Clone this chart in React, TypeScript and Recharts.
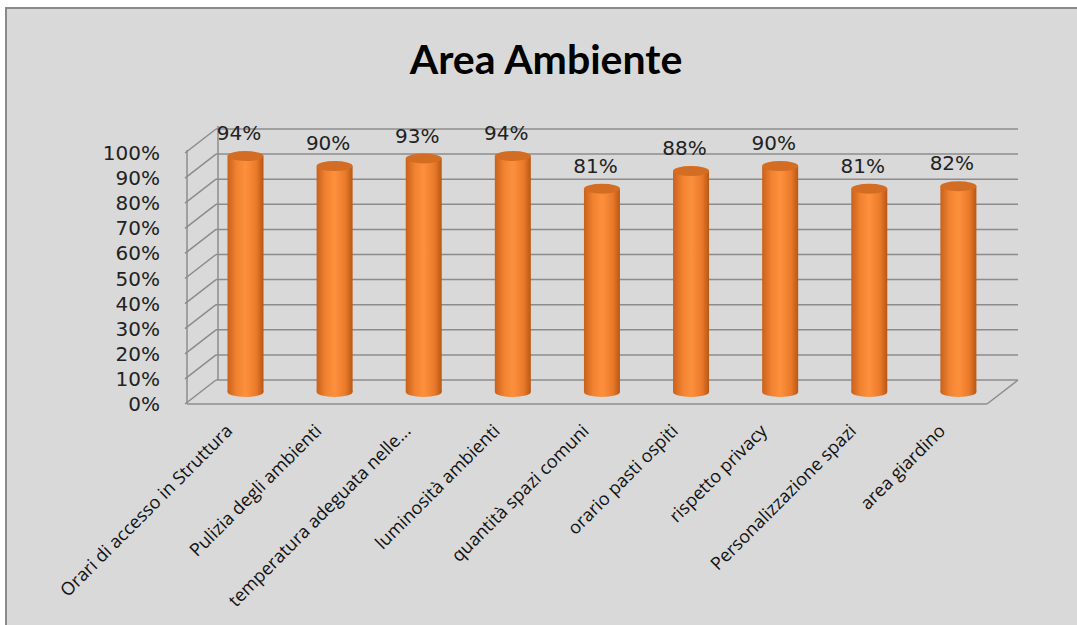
import React from "react";
import { BarChart, Bar, XAxis, YAxis, CartesianGrid, LabelList } from "recharts";

const categories = [
  "Orari di accesso in Struttura",
  "Pulizia degli ambienti",
  "temperatura adeguata nelle...",
  "luminosità ambienti",
  "quantità spazi comuni",
  "orario pasti ospiti",
  "rispetto privacy",
  "Personalizzazione spazi",
  "area giardino",
];
const values = [94, 90, 93, 94, 81, 88, 90, 81, 82];
const yTicks = [0, 10, 20, 30, 40, 50, 60, 70, 80, 90, 100];

const data = categories.map((name, i) => ({ name, value: values[i] }));

// depth of the fake 3D box
const DX = 31;
const DY = -24;

function GridLine(props: any) {
  const { x1, y1, x2, y2 } = props;
  return (
    <g>
      <line x1={x1} y1={y1} x2={x1 + DX} y2={y1 + DY} stroke="#8c8c8c" strokeWidth={1.5} />
      <line x1={x1 + DX} y1={y1 + DY} x2={x2 + DX} y2={y2 + DY} stroke="#8c8c8c" strokeWidth={1.5} />
    </g>
  );
}

function Cylinder(props: any) {
  const { x, y, width, height } = props;
  const cx = x + DX / 2;
  const top = y + DY / 2;
  const bottom = y + height + DY / 2;
  const rx = width / 2;
  const ry = 5;
  return (
    <g>
      <rect x={cx} y={top} width={width} height={bottom - top} fill="url(#cyl)" />
      <ellipse cx={cx + rx} cy={bottom} rx={rx} ry={ry} fill="url(#cyl)" />
      <ellipse cx={cx + rx} cy={top} rx={rx} ry={ry} fill="#d46d24" />
    </g>
  );
}

function ValueLabel(props: any) {
  const { x, y, width, value } = props;
  return (
    <text
      x={x + width / 2 + 9}
      y={y - 28}
      textAnchor="middle"
      fontSize={20}
      fontFamily="DejaVu Sans"
      fill="#222"
    >
      {value}%
    </text>
  );
}

function YTick(props: any) {
  const { x, y, payload } = props;
  return (
    <text x={x} y={y + 7} textAnchor="end" fontSize={20} fontFamily="DejaVu Sans" fill="#222">
      {payload.value}%
    </text>
  );
}

function XTick(props: any) {
  const { x, y, payload } = props;
  const ax = x + 4;
  const ay = y + 20;
  return (
    <text
      x={ax}
      y={ay}
      transform={`rotate(-45, ${ax}, ${ay})`}
      textAnchor="end"
      fontSize={18}
      fontFamily="Open Sans"
      fill="#111"
    >
      {payload.value}
    </text>
  );
}

function Frame(props: any) {
  // floor, left edges of the box
  const left = 187;
  const right = 987;
  const base = 404;
  const topY = 153;
  return (
    <g>
      <line x1={left} y1={topY - 3} x2={left} y2={base} stroke="#8c8c8c" strokeWidth={1.5} />
      <line x1={left + DX} y1={topY + DY - 3} x2={left + DX} y2={base + DY} stroke="#8c8c8c" strokeWidth={1.5} />
      <line x1={left} y1={base} x2={right} y2={base} stroke="#8c8c8c" strokeWidth={1.5} />
      <line x1={right} y1={base} x2={right + DX} y2={base + DY} stroke="#8c8c8c" strokeWidth={1.5} />
    </g>
  );
}

export default function App() {
  return (
    <div style={{ position: "relative", width: 1077, height: 625, background: "#fff" }}>
      <style>{"body{margin:0}"}</style>
      <div
        style={{
          position: "absolute",
          left: 5,
          top: 7,
          width: 1070,
          height: 620,
          background: "#d9d9d9",
          borderTop: "2px solid #8a8a8a",
          borderLeft: "2px solid #8a8a8a",
          borderRight: "1px solid #c8c8c8",
        }}
      />
      <div
        style={{
          position: "absolute",
          left: 0,
          top: 34,
          width: 1092,
          textAlign: "center",
          fontFamily: "Lato",
          fontWeight: 700,
          fontSize: 41,
          color: "#000",
        }}
      >
        Area Ambiente
      </div>
      <div style={{ position: "absolute", left: 0, top: 0 }}>
        <BarChart
          width={1077}
          height={625}
          data={data}
          margin={{ top: 153, right: 90, bottom: 0, left: 125 }}
          barSize={36}
        >
          <defs>
            <linearGradient id="cyl" x1="0" y1="0" x2="1" y2="0">
              <stop offset="0%" stopColor="#c8611c" />
              <stop offset="25%" stopColor="#f08230" />
              <stop offset="50%" stopColor="#fd903d" />
              <stop offset="80%" stopColor="#ea7a2a" />
              <stop offset="100%" stopColor="#b85714" />
            </linearGradient>
          </defs>
          <CartesianGrid vertical={false} horizontal={(p: any) => <GridLine key={p.key} {...p} />} />
          <XAxis
            dataKey="name"
            interval={0}
            height={221}
            axisLine={false}
            tickLine={false}
            tick={<XTick />}
          />
          <YAxis
            domain={[0, 100]}
            ticks={yTicks}
            width={60}
            tickSize={0}
            tickMargin={25}
            axisLine={false}
            tickLine={false}
            tick={<YTick />}
          />
          <Bar dataKey="value" shape={<Cylinder />} isAnimationActive={false}>
            <LabelList dataKey="value" content={<ValueLabel />} />
          </Bar>
          <Frame />
        </BarChart>
      </div>
    </div>
  );
}
